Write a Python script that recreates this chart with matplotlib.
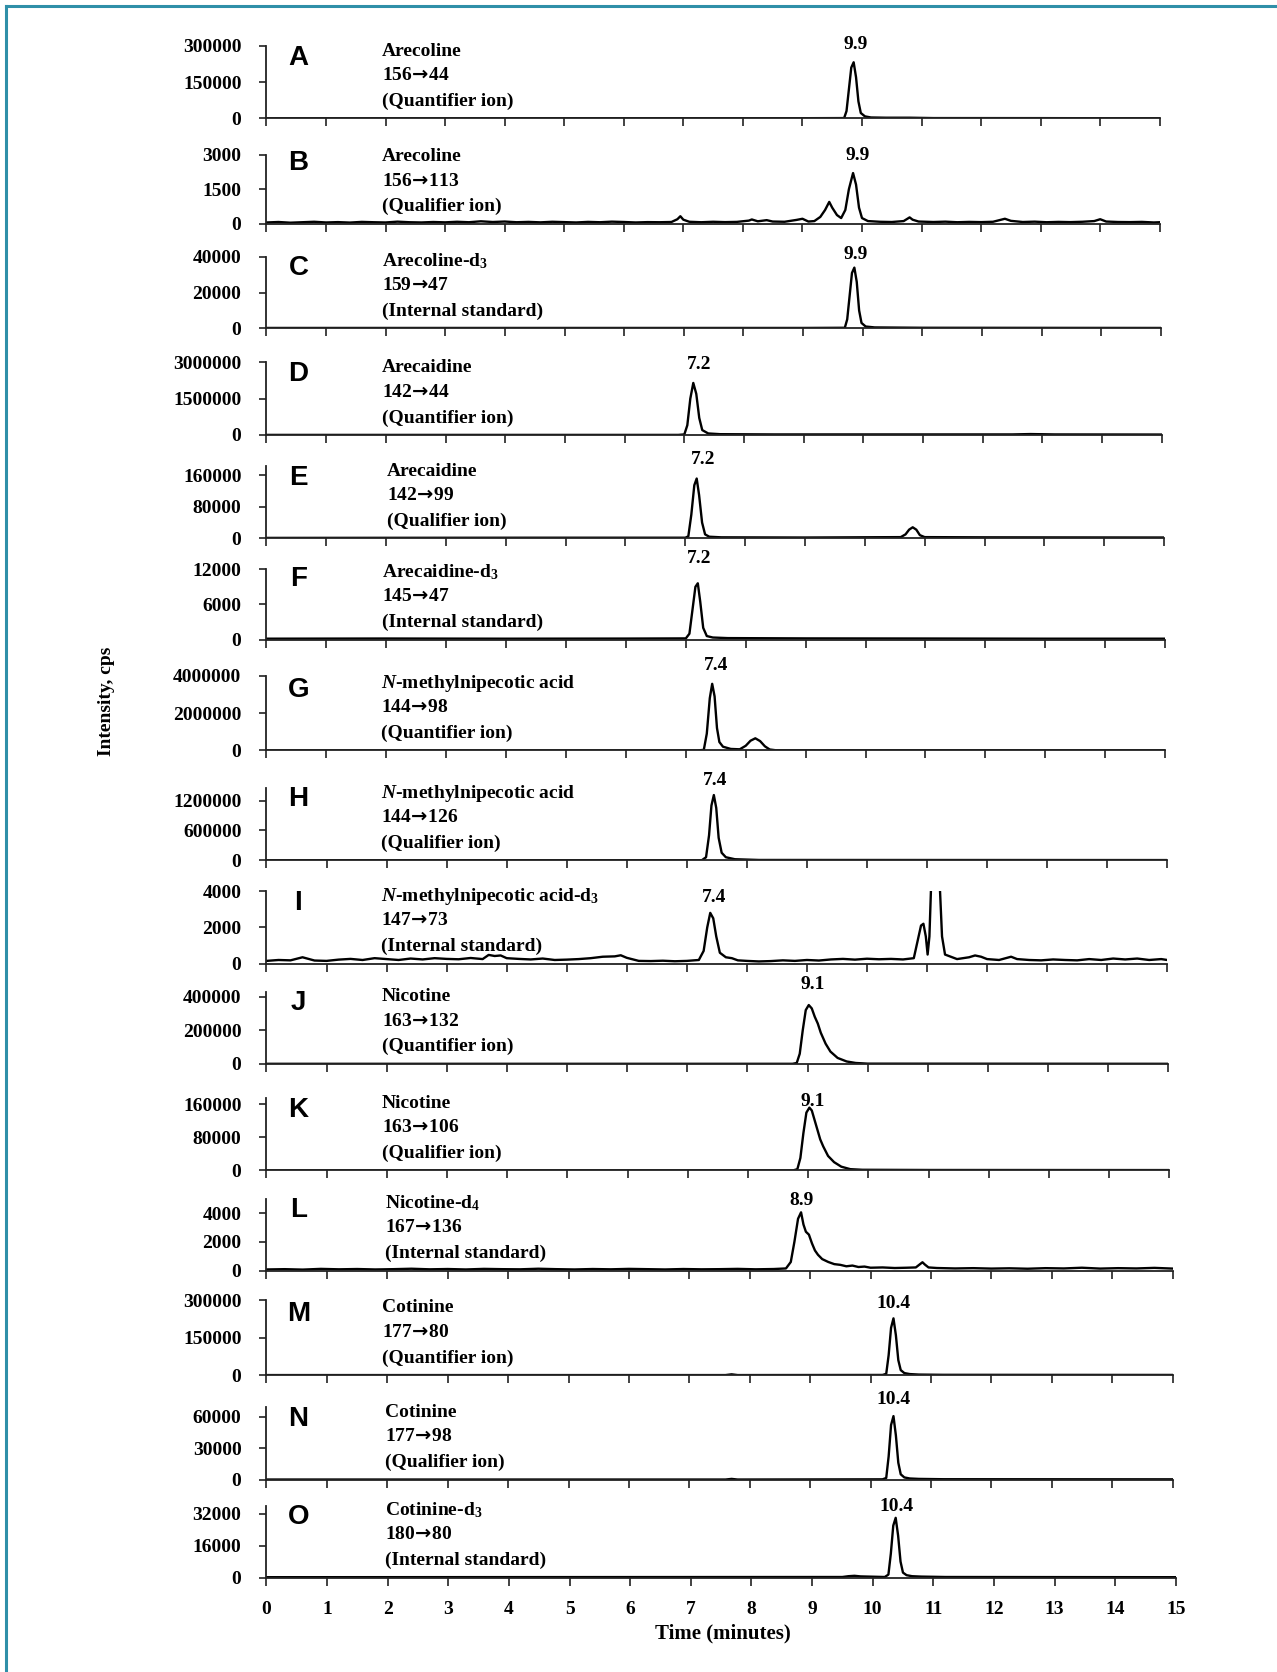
import matplotlib.pyplot as plt
import numpy as np
from matplotlib.lines import Line2D

plt.rcParams['mathtext.fontset'] = 'custom'
plt.rcParams['mathtext.rm'] = 'Liberation Serif:bold'
plt.rcParams['mathtext.it'] = 'Liberation Serif:italic:bold'
plt.rcParams['mathtext.bf'] = 'Liberation Serif:bold'
plt.rcParams['mathtext.sf'] = 'DejaVu Sans:bold'
plt.rcParams['mathtext.default'] = 'rm'

SERIF = ['Liberation Serif', 'DejaVu Serif']
ARROW = r'$\!\mathsf{\rightarrow}\!$'

# panel text
letters = list('ABCDEFGHIJKLMNO')
compounds = ['Arecoline', 'Arecoline', 'Arecoline-d$_3$',
             'Arecaidine', 'Arecaidine', 'Arecaidine-d$_3$',
             r'$\mathit{N}$-methylnipecotic acid', r'$\mathit{N}$-methylnipecotic acid',
             r'$\mathit{N}$-methylnipecotic acid-d$_3$',
             'Nicotine', 'Nicotine', 'Nicotine-d$_4$',
             'Cotinine', 'Cotinine', 'Cotinine-d$_3$']
precursor = ['156', '156', '159', '142', '142', '145', '144', '144', '147',
             '163', '163', '167', '177', '177', '180']
product = ['44', '113', '47', '44', '99', '47', '98', '126', '73',
           '132', '106', '136', '80', '98', '80']
ion_types = ['(Quantifier ion)', '(Qualifier ion)', '(Internal standard)'] * 5
peak_labels = ['9.9', '9.9', '9.9', '7.2', '7.2', '7.2', '7.4', '7.4', '7.4',
               '9.1', '9.1', '8.9', '10.4', '10.4', '10.4']
peak_label_x = [9.9, 9.93, 9.88, 7.25, 7.29, 7.23, 7.51, 7.47, 7.45,
                9.08, 9.07, 8.86, 10.38, 10.38, 10.4]

# y axes
y_tick_top = [300000, 3000, 40000, 3000000, 160000, 12000, 4000000, 1200000,
              4000, 400000, 160000, 4000, 300000, 60000, 32000]
y_max = [300000, 3000, 40000, 3000000, 184000, 12000, 4000000, 1450000,
         4000, 430000, 175000, 5000, 300000, 69000, 36000]

# chromatograms (time in min, intensity in cps)
tA = [0, 5, 9.0, 9.70, 9.74, 9.78, 9.82, 9.86, 9.90, 9.94, 9.98, 10.05, 10.15, 10.4, 10.8, 11.2, 13, 15]
yA = [0, 500, 500, 1000, 30000, 120000, 210000, 232000, 170000, 70000, 22000, 8000, 3500, 2500, 2500, 1000, 800, 0]

tB = [0.0, 0.2, 0.4, 0.6, 0.8, 1.0, 1.2, 1.4, 1.6, 1.8, 2.0, 2.2, 2.4, 2.6, 2.8, 3.0, 3.2, 3.4,
      3.6, 3.8, 4.0, 4.2, 4.4, 4.6, 4.8, 5.0, 5.2, 5.4, 5.6, 5.8, 6.0, 6.2, 6.4, 6.6, 6.8,
      6.9, 6.95, 7.0, 7.1, 7.3, 7.5, 7.7, 7.9, 8.1, 8.15, 8.25, 8.4, 8.5, 8.7, 8.9, 9.0, 9.05,
      9.1, 9.2, 9.3, 9.38, 9.45, 9.5, 9.58, 9.65, 9.72, 9.78, 9.85, 9.9, 9.95, 10.0, 10.1,
      10.3, 10.5, 10.7, 10.8, 10.85, 10.95, 11.2, 11.4, 11.6, 11.8, 12.0, 12.2, 12.4, 12.5,
      12.7, 12.9, 13.1, 13.3, 13.5, 13.7, 13.9, 14.0, 14.1, 14.3, 14.5, 14.7, 14.9, 15.0]
yB = [60, 80, 50, 70, 90, 60, 75, 55, 85, 70, 60, 95, 70, 60, 80, 65, 90, 70,
      110, 80, 100, 70, 85, 65, 90, 75, 60, 85, 70, 95, 80, 60, 75, 70, 80,
      200, 330, 180, 90, 70, 90, 75, 85, 140, 190, 110, 160, 100, 90, 170, 220, 160,
      100, 120, 300, 600, 950, 700, 380, 250, 600, 1500, 2200, 1700, 700, 250, 120,
      90, 80, 120, 280, 180, 100, 80, 95, 70, 85, 75, 90, 220, 130,
      80, 95, 70, 85, 75, 90, 120, 200, 100, 80, 75, 85, 60, 70]

tC = [0, 9.0, 9.70, 9.74, 9.78, 9.82, 9.86, 9.90, 9.94, 9.98, 10.05, 10.2, 11, 15]
yC = [200, 200, 300, 5000, 18000, 31000, 34000, 26000, 10000, 3000, 1000, 500, 300, 200]

tD = [0, 6.9, 7.0, 7.05, 7.1, 7.15, 7.2, 7.25, 7.3, 7.4, 7.6, 8.5, 12.5, 12.8, 13.2, 15]
yD = [0, 0, 20000, 400000, 1500000, 2150000, 1700000, 700000, 200000, 60000, 30000, 20000, 20000, 35000, 20000, 15000]

tE = [0, 4.5, 7.0, 7.05, 7.1, 7.15, 7.19, 7.23, 7.28, 7.33, 7.4, 7.6, 9, 10.6, 10.68, 10.74,
      10.8, 10.86, 10.92, 11.0, 12, 15]
yE = [1000, 1500, 1500, 5000, 60000, 135000, 152000, 110000, 40000, 10000, 4000, 2500, 2000, 3000,
      10000, 22000, 28000, 22000, 8000, 3000, 2500, 2000]

tF = [0, 2, 4, 6, 7.0, 7.06, 7.11, 7.16, 7.2, 7.24, 7.29, 7.35, 7.45, 7.7, 9, 11, 13, 15]
yF = [150, 180, 150, 170, 200, 1000, 5000, 9000, 9600, 6500, 2000, 600, 350, 250, 200, 180, 150, 150]

tG = [0, 7.2, 7.3, 7.35, 7.40, 7.44, 7.48, 7.52, 7.56, 7.62, 7.75, 7.9, 8.0, 8.08, 8.16, 8.24,
      8.32, 8.4, 8.5, 10, 12.5, 12.7, 15]
yG = [0, 0, 30000, 900000, 2800000, 3570000, 2900000, 1200000, 450000, 200000, 80000, 60000,
      250000, 520000, 650000, 500000, 220000, 50000, 10000, 5000, 10000, 5000, 5000]

tH = [0, 7.25, 7.32, 7.37, 7.41, 7.45, 7.49, 7.53, 7.58, 7.65, 7.8, 8.2, 15]
yH = [0, 0, 60000, 500000, 1100000, 1310000, 1050000, 450000, 150000, 60000, 20000, 5000, 3000]

tI = [0.0, 0.2, 0.4, 0.6, 0.8, 1.0, 1.2, 1.4, 1.6, 1.8, 2.0, 2.2, 2.4, 2.6, 2.8, 3.0, 3.2, 3.4,
      3.6, 3.7, 3.8, 3.9, 4.0, 4.2, 4.4, 4.6, 4.8, 5.0, 5.2, 5.4, 5.6, 5.8, 5.9, 6.0, 6.2, 6.4,
      6.6, 6.8, 7.0, 7.2, 7.28, 7.34, 7.39, 7.44, 7.49, 7.55, 7.65, 7.75, 7.85, 8.0, 8.2, 8.4,
      8.6, 8.8, 9.0, 9.2, 9.4, 9.6, 9.8, 10.0, 10.2, 10.4, 10.6, 10.78, 10.84, 10.9, 10.94,
      10.98, 11.01, 11.04, 11.07, 11.1, 11.18, 11.21, 11.25, 11.3, 11.5, 11.7, 11.8, 11.9,
      12.0, 12.2, 12.4, 12.5, 12.7, 12.9, 13.1, 13.3, 13.5, 13.7, 13.9, 14.1, 14.3, 14.5,
      14.7, 14.9, 15.0]
yI = [150, 200, 180, 350, 170, 150, 220, 260, 200, 300, 250, 200, 280, 230, 300, 260, 240, 310,
      250, 480, 420, 450, 300, 260, 230, 280, 200, 220, 250, 300, 380, 400, 460, 320, 150, 140,
      160, 130, 150, 200, 700, 2000, 2800, 2500, 1500, 600, 350, 300, 180, 150, 120, 140,
      180, 150, 200, 170, 230, 260, 220, 270, 240, 260, 230, 300, 1200, 2100, 2200,
      1500, 500, 1500, 4500, 20000, 20000, 4500, 1500, 500, 250, 350, 450, 380,
      250, 200, 380, 250, 200, 180, 230, 200, 180, 250, 200, 280, 230, 280,
      200, 250, 200]

tJ = [0, 8.75, 8.82, 8.87, 8.92, 8.97, 9.02, 9.07, 9.12, 9.17, 9.22, 9.3, 9.38, 9.5, 9.65, 9.8, 10.0, 15]
yJ = [0, 0, 5000, 60000, 200000, 320000, 350000, 330000, 280000, 240000, 185000, 120000, 73000,
      35000, 14000, 5000, 1000, 0]

tK = [0, 8.75, 8.82, 8.87, 8.92, 8.97, 9.02, 9.06, 9.1, 9.15, 9.2, 9.25, 9.33, 9.43, 9.55, 9.7, 9.9, 11, 15]
yK = [0, 0, 3000, 30000, 90000, 140000, 152000, 145000, 125000, 100000, 75000, 58000, 35000,
      20000, 9000, 3000, 1500, 1000, 800]

tL = [0.0, 0.3, 0.6, 0.9, 1.2, 1.5, 1.8, 2.1, 2.4, 2.7, 3.0, 3.3, 3.6, 3.9, 4.2, 4.5, 4.8, 5.1,
      5.4, 5.7, 6.0, 6.3, 6.6, 6.9, 7.2, 7.5, 7.8, 8.1, 8.4, 8.6, 8.68, 8.74, 8.8, 8.85, 8.89,
      8.93, 8.98, 9.03, 9.08, 9.13, 9.2, 9.3, 9.4, 9.5, 9.6, 9.7, 9.8, 9.9, 10.0, 10.2, 10.4,
      10.6, 10.75, 10.82, 10.86, 10.9, 10.96, 11.1, 11.4, 11.7, 12.0, 12.3, 12.6, 12.9, 13.2,
      13.5, 13.8, 14.1, 14.4, 14.7, 15.0]
yL = [80, 100, 70, 120, 90, 110, 80, 100, 130, 90, 110, 80, 120, 100, 90, 130, 100, 80,
      110, 90, 120, 100, 80, 110, 90, 100, 120, 90, 110, 150, 600, 2000, 3600, 4050, 3200,
      2700, 2500, 1900, 1400, 1100, 800, 600, 450, 400, 300, 350, 250, 280, 200, 220, 180,
      200, 220, 450, 580, 420, 220, 180, 150, 170, 140, 160, 130, 170, 150,
      200, 140, 170, 150, 190, 140]

tM = [0, 7.6, 7.7, 7.8, 10.2, 10.26, 10.3, 10.34, 10.38, 10.42, 10.46, 10.5, 10.56, 10.65, 10.8, 11.2, 15]
yM = [0, 0, 3000, 0, 500, 5000, 80000, 190000, 228000, 160000, 60000, 20000, 8000, 4000, 2000, 1000, 500]

tN = [0, 7.6, 7.7, 7.8, 10.2, 10.26, 10.3, 10.34, 10.38, 10.42, 10.46, 10.5, 10.56, 10.65, 10.8, 11.2, 15]
yN = [0, 0, 600, 0, 200, 1500, 22000, 52000, 60500, 42000, 16000, 5000, 2000, 1000, 600, 300, 200]

tO = [0, 9.5, 9.6, 9.7, 9.8, 10.2, 10.26, 10.3, 10.34, 10.38, 10.42, 10.46, 10.5, 10.56, 10.65, 10.8, 11.2, 15]
yO = [200, 300, 700, 900, 600, 300, 1500, 12000, 26000, 29900, 21000, 8000, 2500, 1200, 700, 500, 300, 200]

traces = [(tA, yA), (tB, yB), (tC, yC), (tD, yD), (tE, yE), (tF, yF), (tG, yG), (tH, yH),
          (tI, yI), (tJ, yJ), (tK, yK), (tL, yL), (tM, yM), (tN, yN), (tO, yO)]

# layout, measured on a 1198 px wide copy of the figure
S = 1277 / 1198
W, H = 1277, 1672
zero_px = [111, 210, 308, 408, 505, 600, 704, 807, 904, 998, 1098, 1192, 1290, 1388, 1480]
top_px = [43, 145, 241, 340, 446, 534, 634, 751, 836, 935, 1036, 1138, 1220, 1329, 1420]
right_px = [1088, 1088, 1089, 1090, 1092, 1093, 1093, 1095, 1095, 1096, 1097, 1100, 1100, 1100, 1103]
text_x_px = [358, 358, 358, 358, 363, 358, 357, 357, 357, 358, 358, 361, 358, 361, 361]
label_dy_px = [69, 64, 69, 66, 74, 76, 80, 75, 62, 74, 65, 66, 67, 75, 67]
left_px = 250


def fx(x):
    return x * S / W


def fy(y):
    return 1 - y * S / H


fig = plt.figure(figsize=(W / 100, H / 100), dpi=100)

for i in range(15):
    h = (zero_px[i] - top_px[i]) * y_max[i] / y_tick_top[i]
    ax = fig.add_axes([fx(left_px), fy(zero_px[i]), fx(right_px[i]) - fx(left_px), h * S / H])
    t, y = traces[i]
    ax.plot(t, y, color='black', lw=1.7)
    ax.set_xlim(0, 15)
    ax.set_ylim(0, y_max[i])
    ax.set_xticks(range(16))
    ax.set_yticks([0, y_tick_top[i] / 2, y_tick_top[i]])
    ax.set_yticklabels(['0', str(y_tick_top[i] // 2), str(y_tick_top[i])])
    for s in ['top', 'right']:
        ax.spines[s].set_visible(False)
    for s in ['left', 'bottom']:
        ax.spines[s].set_linewidth(1.3)
        ax.spines[s].set_color('#222222')
    ax.tick_params(axis='y', direction='out', length=5, width=1.2, pad=13, colors='#222222')
    ax.tick_params(axis='x', direction='out', length=6, width=1.2, pad=11, colors='#222222')
    for lab in ax.get_yticklabels() + ax.get_xticklabels():
        lab.set_family(SERIF)
        lab.set_fontweight('bold')
        lab.set_fontsize(14)
        lab.set_color('black')
    if i < 14:
        ax.set_xticklabels([])

    z = zero_px[i]
    fig.text(fx(280), fy(z - 57), letters[i], family=['Liberation Sans', 'DejaVu Sans'],
             fontweight='bold', fontsize=20, ha='center', va='center')
    fig.text(fx(text_x_px[i]), fy(z - 63), compounds[i], family=SERIF, fontweight='bold',
             fontsize=14, ha='left', va='center')
    fig.text(fx(text_x_px[i]), fy(z - 40), precursor[i] + ARROW + product[i], family=SERIF,
             fontweight='bold', fontsize=14, ha='left', va='center')
    fig.text(fx(text_x_px[i]), fy(z - 16), ion_types[i], family=SERIF, fontweight='bold',
             fontsize=14, ha='left', va='center')
    ax.annotate(peak_labels[i], xy=(peak_label_x[i], fy(z - label_dy_px[i])),
                xycoords=('data', 'figure fraction'), ha='center', va='center',
                family=SERIF, fontweight='bold', fontsize=14, annotation_clip=False)

fig.text(fx(678), fy(1532), 'Time (minutes)', family=SERIF, fontweight='bold',
         fontsize=15, ha='center', va='center')
fig.text(fx(100), fy(658), 'Intensity, cps', family=SERIF, fontweight='bold',
         fontsize=14, ha='center', va='center', rotation=90)

# frame
fig.add_artist(Line2D([6 / W, 6 / W], [0, 1 - 6 / H], color='#2f8fa8', lw=2.2))
fig.add_artist(Line2D([6 / W, 1], [1 - 6 / H, 1 - 6 / H], color='#2f8fa8', lw=2.2))

fig.savefig('out.png', dpi=100)
